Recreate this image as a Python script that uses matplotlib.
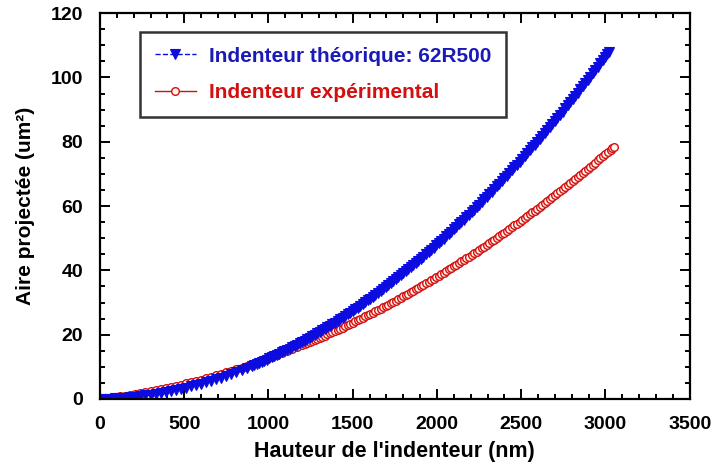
import matplotlib
matplotlib.use("Agg")
import matplotlib.pyplot as plt
from matplotlib.ticker import MultipleLocator

plt.rcParams['font.family'] = ['Liberation Sans', 'DejaVu Sans']
plt.rcParams['font.weight'] = 'bold'

# Indenteur théorique: 62R500 (h in nm, area in um^2)
h_theo = [0, 30, 60, 90, 120, 150, 180, 210, 240, 270, 300, 330, 360, 390, 420, 450, 480, 510, 540, 570,
          600, 630, 660, 690, 720, 750, 780, 810, 840, 870,
          900, 915, 930, 945, 960, 975, 990, 1005, 1020, 1035,
          1050, 1065, 1080, 1095, 1110, 1125, 1140, 1155, 1170, 1185,
          1200, 1215, 1230, 1245, 1260, 1275, 1290, 1305, 1320, 1335,
          1350, 1365, 1380, 1395, 1410, 1425, 1440, 1455, 1470, 1485,
          1500, 1515, 1530, 1545, 1560, 1575, 1590, 1605, 1620, 1635,
          1650, 1665, 1680, 1695, 1710, 1725, 1740, 1755, 1770, 1785,
          1800, 1815, 1830, 1845, 1860, 1875, 1890, 1905, 1920, 1935,
          1950, 1965, 1980, 1995, 2010, 2025, 2040, 2055, 2070, 2085,
          2100, 2115, 2130, 2145, 2160, 2175, 2190, 2205, 2220, 2235,
          2250, 2265, 2280, 2295, 2310, 2325, 2340, 2355, 2370, 2385,
          2400, 2415, 2430, 2445, 2460, 2475, 2490, 2505, 2520, 2535,
          2550, 2565, 2580, 2595, 2610, 2625, 2640, 2655, 2670, 2685,
          2700, 2715, 2730, 2745, 2760, 2775, 2790, 2805, 2820, 2835,
          2850, 2865, 2880, 2895, 2910, 2925, 2940, 2955, 2970, 2985,
          3000, 3010, 3020]
a_theo = [0.00, 0.04, 0.10, 0.18, 0.29, 0.41, 0.55, 0.72, 0.90, 1.11, 1.34, 1.58, 1.85, 2.14, 2.45, 2.78, 3.13, 3.50, 3.89, 4.31,
          4.74, 5.19, 5.67, 6.17, 6.68, 7.22, 7.78, 8.36, 8.95, 9.57,
          10.22, 10.54, 10.88, 11.21, 11.56, 11.91, 12.26, 12.62, 12.98, 13.35,
          13.73, 14.11, 14.49, 14.88, 15.28, 15.68, 16.09, 16.50, 16.91, 17.33,
          17.76, 18.19, 18.63, 19.07, 19.52, 19.97, 20.43, 20.89, 21.36, 21.83,
          22.31, 22.79, 23.28, 23.77, 24.27, 24.78, 25.29, 25.80, 26.32, 26.85,
          27.38, 27.91, 28.45, 29.00, 29.55, 30.10, 30.66, 31.23, 31.80, 32.38,
          32.96, 33.55, 34.14, 34.73, 35.34, 35.94, 36.56, 37.18, 37.80, 38.43,
          39.06, 39.70, 40.34, 40.99, 41.65, 42.30, 42.97, 43.64, 44.31, 44.99,
          45.68, 46.37, 47.06, 47.77, 48.47, 49.18, 49.90, 50.62, 51.35, 52.08,
          52.82, 53.56, 54.30, 55.06, 55.81, 56.58, 57.35, 58.12, 58.90, 59.68,
          60.47, 61.26, 62.06, 62.87, 63.68, 64.49, 65.31, 66.13, 66.96, 67.80,
          68.64, 69.49, 70.34, 71.19, 72.05, 72.92, 73.79, 74.67, 75.55, 76.44,
          77.33, 78.23, 79.13, 80.04, 80.95, 81.87, 82.79, 83.72, 84.65, 85.59,
          86.54, 87.48, 88.44, 89.40, 90.36, 91.33, 92.31, 93.29, 94.27, 95.26,
          96.26, 97.26, 98.27, 99.28, 100.29, 101.32, 102.34, 103.37, 104.41, 105.45,
          106.50, 107.20, 107.90]

# Indenteur expérimental
h_exp = [0, 30, 60, 90, 120, 150, 180, 210, 240, 270, 300, 330, 360, 390, 420, 450, 480, 510, 540, 570,
         600, 630, 660, 690, 720, 750, 780, 810, 840, 870, 900, 930, 960, 990, 1020, 1050, 1080, 1110, 1140, 1170,
         1200, 1215, 1230, 1245, 1260, 1275, 1290, 1305, 1320, 1335,
         1350, 1365, 1380, 1395, 1410, 1425, 1440, 1455, 1470, 1485,
         1500, 1515, 1530, 1545, 1560, 1575, 1590, 1605, 1620, 1635,
         1650, 1665, 1680, 1695, 1710, 1725, 1740, 1755, 1770, 1785,
         1800, 1815, 1830, 1845, 1860, 1875, 1890, 1905, 1920, 1935,
         1950, 1965, 1980, 1995,
         2010, 2025, 2040, 2055, 2070, 2085, 2100, 2115, 2130, 2145,
         2160, 2175, 2190, 2205, 2220, 2235, 2250, 2265, 2280, 2295,
         2310, 2325, 2340, 2355, 2370, 2385, 2400, 2415, 2430, 2445,
         2460, 2475, 2490, 2505, 2520, 2535, 2550, 2565, 2580, 2595,
         2610, 2625, 2640, 2655, 2670, 2685, 2700, 2715, 2730, 2745,
         2760, 2775, 2790, 2805, 2820, 2835, 2850, 2865, 2880, 2895,
         2910, 2925, 2940, 2955, 2970, 2985, 3000, 3015, 3030, 3040, 3050]
a_exp = [0.00, 0.19, 0.40, 0.61, 0.84, 1.08, 1.33, 1.59, 1.87, 2.15, 2.45, 2.76, 3.08, 3.41, 3.75, 4.10, 4.47, 4.85, 5.24, 5.64,
         6.05, 6.47, 6.90, 7.35, 7.81, 8.28, 8.76, 9.25, 9.75, 10.27, 10.79, 11.33, 11.88, 12.44, 13.01, 13.60, 14.19, 14.80, 15.42, 16.05,
         16.69, 17.01, 17.34, 17.67, 18.00, 18.34, 18.68, 19.02, 19.37, 19.71,
         20.07, 20.42, 20.78, 21.13, 21.50, 21.86, 22.23, 22.60, 22.97, 23.35,
         23.73, 24.11, 24.50, 24.89, 25.28, 25.67, 26.07, 26.47, 26.87, 27.27,
         27.68, 28.09, 28.51, 28.92, 29.34, 29.77, 30.19, 30.62, 31.05, 31.48,
         31.92, 32.36, 32.80, 33.25, 33.70, 34.15, 34.60, 35.06, 35.52, 35.98,
         36.45, 36.92, 37.39, 37.86,
         38.34, 38.82, 39.30, 39.79, 40.28, 40.77, 41.26, 41.76, 42.26, 42.76,
         43.27, 43.78, 44.29, 44.80, 45.32, 45.84, 46.36, 46.89, 47.42, 47.95,
         48.48, 49.02, 49.56, 50.10, 50.65, 51.20, 51.75, 52.30, 52.86, 53.42,
         53.98, 54.55, 55.12, 55.69, 56.27, 56.84, 57.42, 58.01, 58.59, 59.18,
         59.77, 60.37, 60.97, 61.57, 62.17, 62.78, 63.39, 64.00, 64.61, 65.23,
         65.85, 66.47, 67.10, 67.73, 68.36, 69.00, 69.63, 70.27, 70.92, 71.57,
         72.21, 72.87, 73.52, 74.18, 74.84, 75.50, 76.17, 76.84, 77.51, 77.96, 78.41]

label_theo = "Indenteur théorique: 62R500"
label_exp = "Indenteur expérimental"
xlabel = "Hauteur de l'indenteur (nm)"
ylabel = "Aire projectée (um²)"

blue = '#0c0ce0'
blue_txt = '#1a1ab8'
red = '#d40f0f'

fig = plt.figure(figsize=(7.14, 4.66), dpi=100)
ax = fig.add_axes([0.140, 0.1438, 0.826, 0.828])

l_exp, = ax.plot(h_exp, a_exp, linestyle='-', color=red, linewidth=1.0,
                 marker='o', markersize=5.5, markerfacecolor='#fff6ec',
                 markeredgecolor=red, markeredgewidth=1.0)
l_theo, = ax.plot(h_theo, a_theo, linestyle='--', color=blue, linewidth=1.0,
                  marker='v', markersize=6.5, markerfacecolor=blue,
                  markeredgecolor=blue, markeredgewidth=0.8)

ax.set_xlim(0, 3500)
ax.set_ylim(0, 120)
ax.xaxis.set_major_locator(MultipleLocator(500))
ax.xaxis.set_minor_locator(MultipleLocator(100))
ax.yaxis.set_major_locator(MultipleLocator(20))
ax.yaxis.set_minor_locator(MultipleLocator(5))
ax.tick_params(which='both', direction='in', top=True, right=True, width=1.4)
ax.tick_params(which='major', length=7, labelsize=14, pad=12)
ax.tick_params(which='minor', length=3.5)
for lab in ax.get_xticklabels() + ax.get_yticklabels():
    lab.set_fontweight('bold')
for s in ax.spines.values():
    s.set_linewidth(1.6)

ax.set_xlabel(xlabel, fontsize=15.5, fontweight='bold')
ax.set_ylabel(ylabel, fontsize=15, fontweight='bold')
ax.xaxis.set_label_coords(0.5, -0.11)
ax.yaxis.set_label_coords(-0.11, 0.5)

leg = ax.legend([l_theo, l_exp], [label_theo, label_exp], loc='upper left',
                bbox_to_anchor=(0.068, 0.951), borderaxespad=0,
                frameon=True, fancybox=False, edgecolor='black',
                handlelength=2.0, handletextpad=0.6, labelspacing=0.85,
                borderpad=0.7, labelcolor=[blue_txt, red],
                prop={'weight': 'bold', 'size': 15})
leg.get_frame().set_linewidth(1.8)

fig.savefig('out.png', dpi=100)
